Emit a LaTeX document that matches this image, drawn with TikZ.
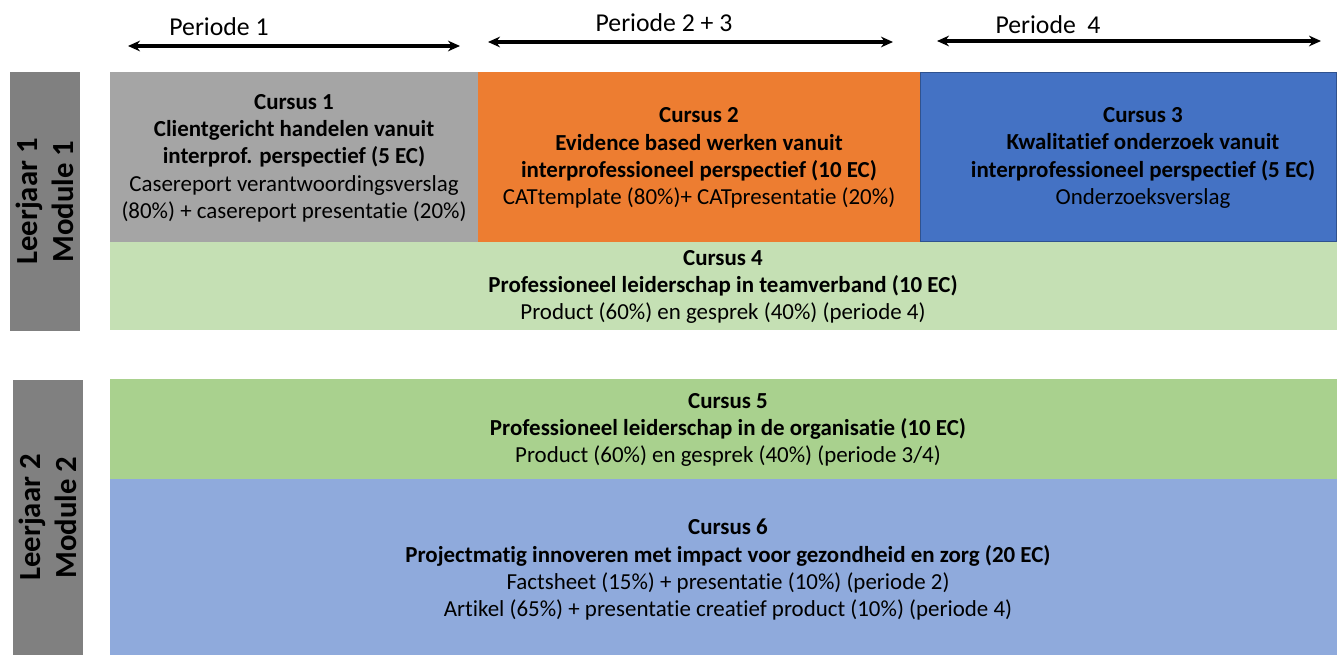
\documentclass[tikz,border=0pt]{standalone}
\usepackage{fontspec}
\setmainfont[Ligatures={NoCommon}]{Carlito}
\usetikzlibrary{arrows.meta}
\definecolor{cgray}{RGB}{165,165,165}
\definecolor{cbar}{RGB}{128,128,128}
\definecolor{corange}{RGB}{237,125,49}
\definecolor{cblue}{RGB}{68,114,196}
\definecolor{cblueb}{RGB}{47,82,143}
\definecolor{clgreen}{RGB}{197,224,180}
\definecolor{cgreen}{RGB}{169,209,142}
\definecolor{clblue}{RGB}{143,170,220}
\tikzset{
  box/.style={inner sep=0pt, outer sep=0pt, draw=none},
  txt/.style={align=center, inner sep=0pt, font=\fontsize{17.2}{20.5}\selectfont},
  side/.style={align=center, inner sep=0pt, rotate=90, font=\fontsize{23}{27}\selectfont\bfseries},
  per/.style={inner sep=0pt, font=\fontsize{19.3}{22}\selectfont},
  arr/.style={line width=2.3pt, {Stealth[length=9pt,width=8pt]}-{Stealth[length=9pt,width=8pt]}}
}
\begin{document}
\begin{tikzpicture}[x=0.75pt,y=-0.75pt]
\useasboundingbox (0,0) rectangle (1337,655);
% side bars
\node[box, fill=cbar, minimum width=52.5pt, minimum height=194.25pt] (bar1) at (45,201.5) {};
\node[box, fill=cbar, minimum width=52.5pt, minimum height=206.25pt] (bar2) at (48,517.5) {};
\node[side] (l1) at (bar1.center) {Leerjaar 1\\Module 1};
\node[side] (l2) at (bar2.center) {Leerjaar 2\\Module 2};
% boxes
\node[box, fill=cgray, minimum width=276pt, minimum height=127.5pt] (b1) at (294,157) {};
\node[box, fill=corange, minimum width=331.5pt, minimum height=127.5pt] (b2) at (699,157) {};
\node[box, fill=cblue, draw=cblueb, line width=1pt, minimum width=312pt, minimum height=127pt] (b3) at (1128.5,157) {};
\node[box, fill=clgreen, minimum width=920.25pt, minimum height=66pt] (b4) at (723.5,286) {};
\node[box, fill=cgreen, minimum width=920.25pt, minimum height=75pt] (b5) at (723.5,429) {};
\node[box, fill=clblue, minimum width=920.25pt, minimum height=132pt] (b6) at (723.5,567) {};
% texts
\node[txt] (t1) at (294,158) {\textbf{Cursus 1}\\\textbf{Clientgericht handelen vanuit}\\\textbf{interprof. perspectief (5 EC)}\\Casereport verantwoordingsverslag\\(80\%) + casereport presentatie (20\%)};
\node[txt] (t2) at (699,158) {\textbf{Cursus 2}\\\textbf{Evidence based werken vanuit}\\\textbf{interprofessioneel perspectief (10 EC)}\\CATtemplate (80\%)+ CATpresentatie (20\%)};
\node[txt] (t3) at (1143,158) {\textbf{Cursus 3}\\\textbf{Kwalitatief onderzoek vanuit}\\\textbf{interprofessioneel perspectief (5 EC)}\\Onderzoeksverslag};
\node[txt] (t4) at (723,287) {\textbf{Cursus 4}\\\textbf{Professioneel leiderschap in teamverband (10 EC)}\\Product (60\%) en gesprek (40\%) (periode 4)};
\node[txt] (t5) at (728,430) {\textbf{Cursus 5}\\\textbf{Professioneel leiderschap in de organisatie (10 EC)}\\Product (60\%) en gesprek (40\%) (periode 3/4)};
\node[txt] (t6) at (728,570) {\textbf{Cursus 6}\\\textbf{Projectmatig innoveren met impact voor gezondheid en zorg (20 EC)}\\Factsheet (15\%) + presentatie (10\%) (periode 2)\\Artikel (65\%) + presentatie creatief product (10\%) (periode 4)};
% periods
\node[per] (p1) at (219,27) {Periode 1};
\node[per] (p2) at (664,23) {Periode 2 + 3};
\node[per] (p3) at (1048,25) {Periode\ \ 4};
\coordinate (a1l) at (128,46);
\coordinate (a1r) at (460,46);
\coordinate (a2l) at (488,42);
\coordinate (a2r) at (893,42);
\coordinate (a3l) at (937,41);
\coordinate (a3r) at (1321,41);
\draw[arr] (a1l) -- (a1r);
\draw[arr] (a2l) -- (a2r);
\draw[arr] (a3l) -- (a3r);
\end{tikzpicture}
\end{document}
